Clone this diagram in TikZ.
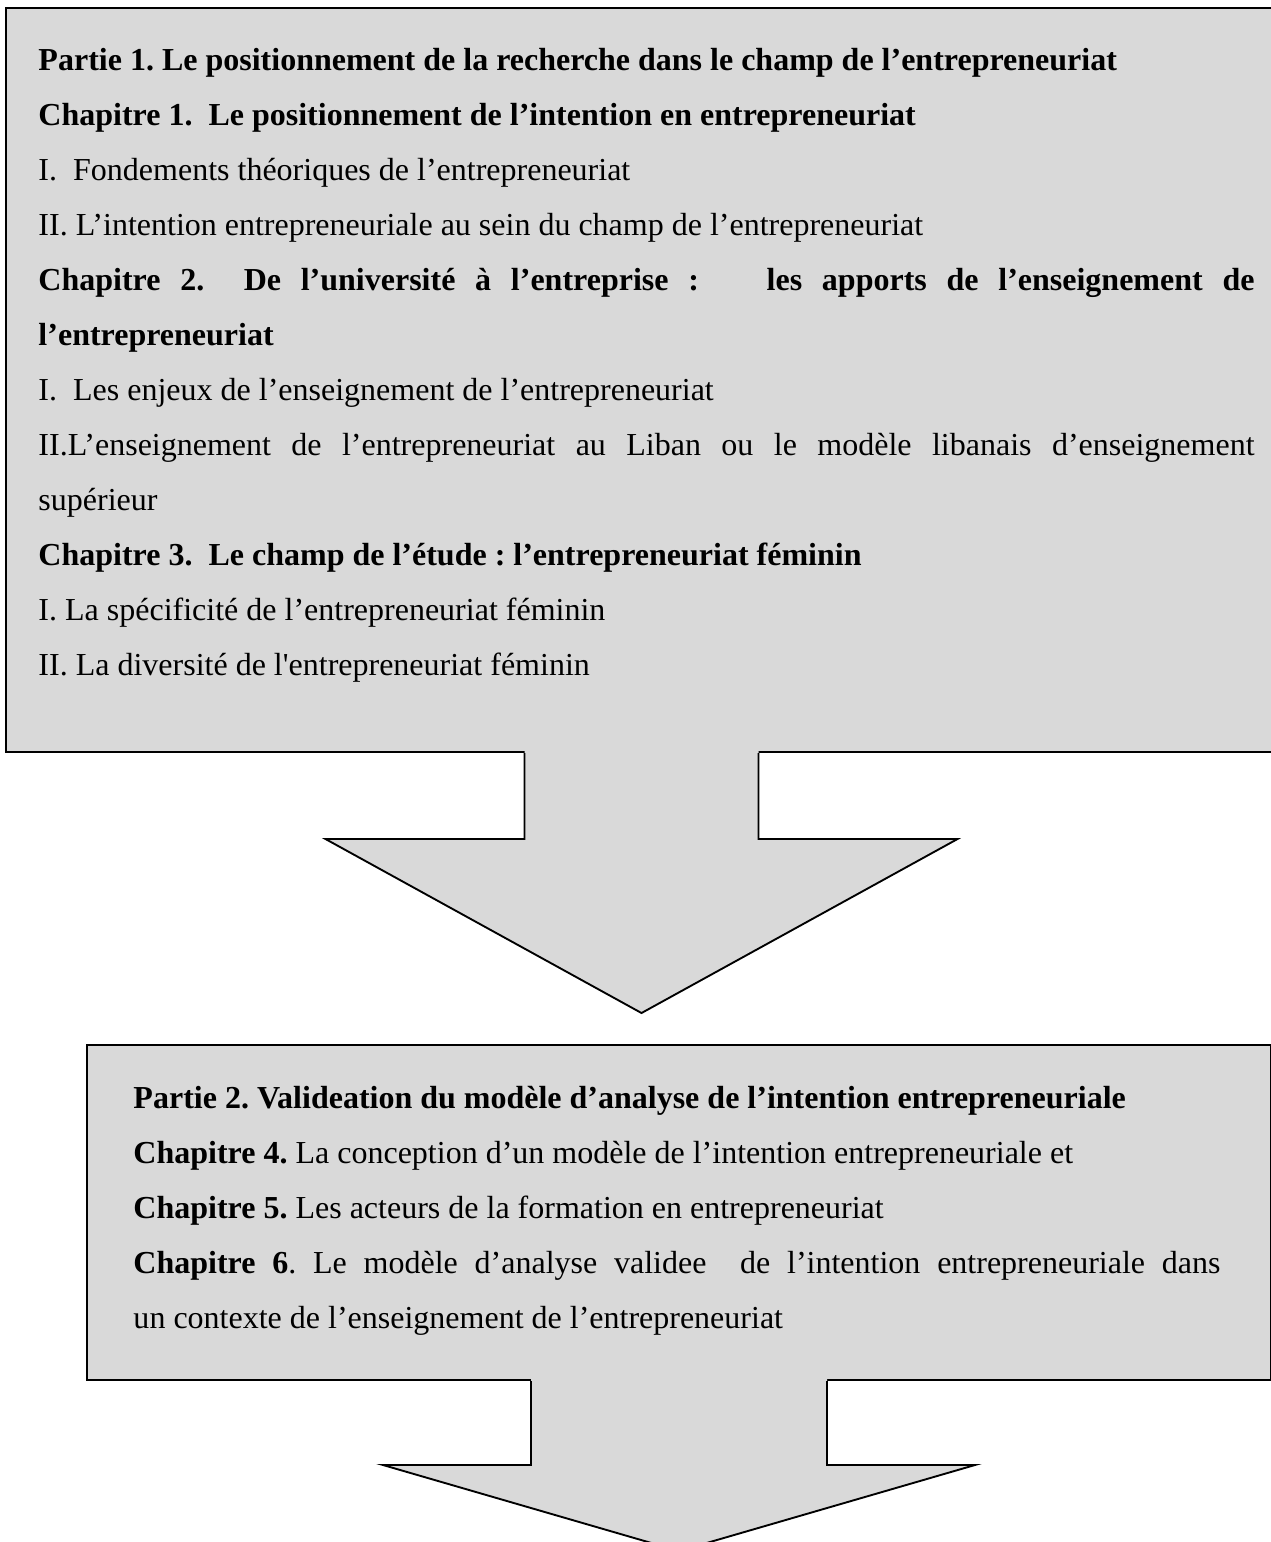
\documentclass[tikz,border=0pt]{standalone}
\usepackage{fontspec}
\setmainfont{Liberation Serif}
\hyphenpenalty=10000
\exhyphenpenalty=10000
\tolerance=9999
\frenchspacing
\definecolor{panelgray}{HTML}{D9D9D9}
\tikzset{
  panel/.style={fill=panelgray, draw=black, line width=0.8pt, inner sep=0pt, anchor=north west},
  arrowline/.style={draw=black, line width=0.75pt, line join=miter},
  bodytext/.style={anchor=base west, inner sep=0pt, align=justify, font=\fontsize{12.8}{22}\selectfont\frenchspacing}
}
% #1 box, #2 shaft half width, #3 shaft length, #4 wing half width, #5 head length
\newcommand{\blockarrow}[5]{%
  \begin{scope}[shift={(#1.south)}]
    \fill[panelgray] (-#2,-3) -- (-#2,#3) -- (-#4,#3) -- (0,{#3+#5}) -- (#4,#3) -- (#2,#3) -- (#2,-3) -- cycle;
    \draw[arrowline] (-#2,0) -- (-#2,#3) -- (-#4,#3) -- (0,{#3+#5}) coordinate (#1tip) -- (#4,#3) -- (#2,#3) -- (#2,0);
  \end{scope}}

\begin{document}
\begin{tikzpicture}[x=0.4pt, y=-0.4pt]

  \useasboundingbox (0,0) rectangle (1271,1542);

  \node[panel, minimum width=508.4pt, minimum height=297.6pt] (part1) at (5,7) {};
  \node[panel, minimum width=473.6pt, minimum height=134pt] (part2) at (86,1044) {};

  \blockarrow{part1}{117}{86}{316}{174}
  \blockarrow{part2}{148}{84}{296}{86}

  \node[bodytext, text width=486.4pt] (part1text) at (38,70) {%
    \textbf{Partie 1. Le positionnement de la recherche dans le champ de l’entrepreneuriat}\par
    \textbf{Chapitre 1.\ \ Le positionnement de l’intention en entrepreneuriat}\par
    I.\ \ Fondements théoriques de l’entrepreneuriat\par
    II. L’intention entrepreneuriale au sein du champ de l’entrepreneuriat\par
    \textbf{Chapitre 2.\ \ De l’université à l’entreprise :\hspace{1.5em} les apports de l’enseignement de\linebreak l’entrepreneuriat}\par
    I.\ \ Les enjeux de l’enseignement de l’entrepreneuriat\par
    II.L’enseignement de l’entrepreneuriat au Liban ou le modèle libanais d’enseignement\linebreak supérieur\par
    \textbf{Chapitre 3.\ \ Le champ de l’étude : l’entrepreneuriat féminin}\par
    I. La spécificité de l’entrepreneuriat féminin\par
    II. La diversité de l\textquotesingle entrepreneuriat féminin};

  \node[bodytext, text width=434.8pt] (part2text) at (133,1108) {%
    \textbf{Partie 2. Valideation du modèle d’analyse de l’intention entrepreneuriale}\par
    \textbf{Chapitre 4.} La conception d’un modèle de l’intention entrepreneuriale et\par
    \textbf{Chapitre 5.} Les acteurs de la formation en entrepreneuriat\par
    \textbf{Chapitre 6}. Le modèle d’analyse validee\ \ de l’intention entrepreneuriale dans\linebreak un contexte de l’enseignement de l’entrepreneuriat};

\end{tikzpicture}
\end{document}
